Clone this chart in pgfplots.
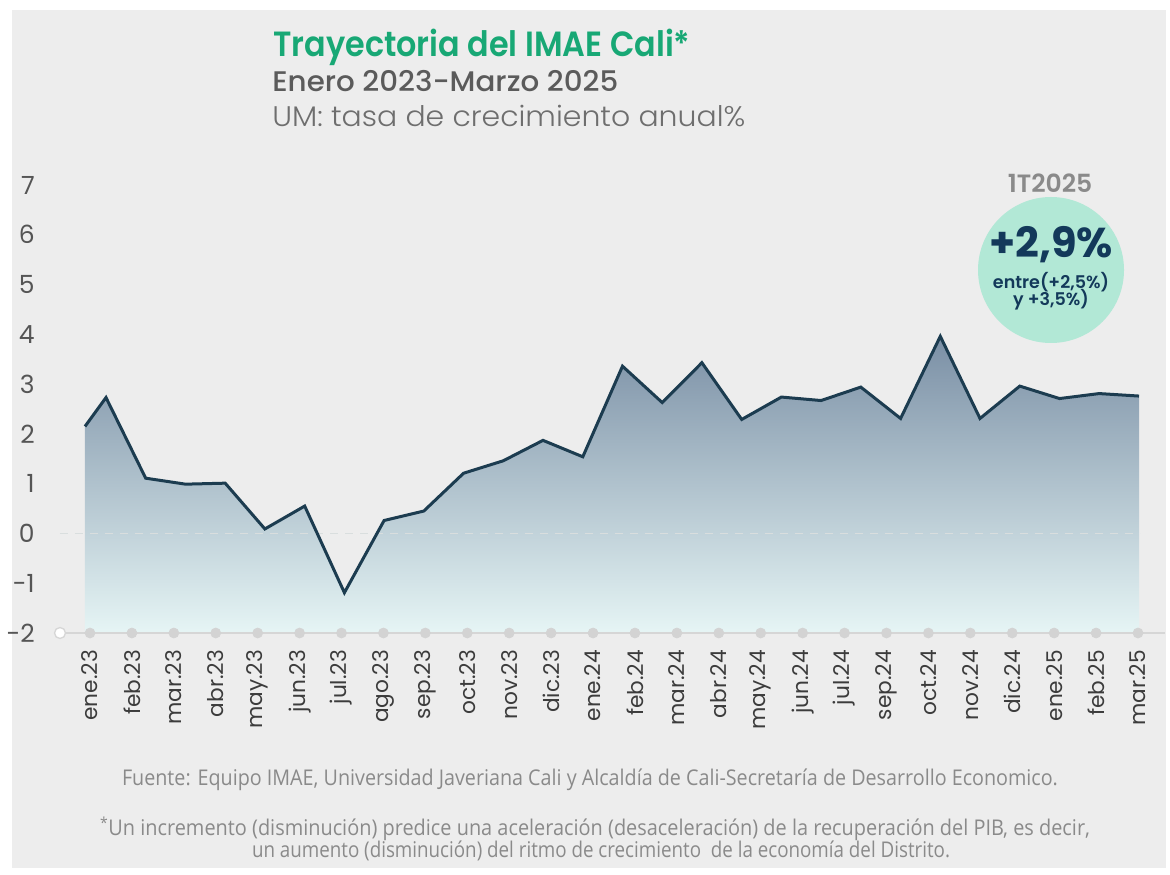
\documentclass[border=0pt]{standalone}
\usepackage{fontspec}
\setmainfont{Poppins}
\newfontfamily\popsb{Poppins SemiBold}
\newfontfamily\popmed{Poppins Medium}
\newfontfamily\poplight{Poppins Light}
\newfontfamily\popb{Poppins Bold}
\newfontfamily\footfont{Open Sans}
\usepackage{graphicx}
\usepackage{pgfplots}
\pgfplotsset{compat=1.18}
\definecolor{bg}{HTML}{EDEDED}
\definecolor{titlegreen}{HTML}{18A875}
\definecolor{subgray}{HTML}{5B5B5B}
\definecolor{umgray}{HTML}{6E6E6E}
\definecolor{mint}{HTML}{B2E8D6}
\definecolor{navy}{HTML}{13395A}
\definecolor{linecol}{HTML}{1C3C50}
\definecolor{filltop}{HTML}{7A8FA5}
\definecolor{fillbot}{HTML}{E6F5F5}
\definecolor{zerogray}{HTML}{D9DEDE}
\definecolor{axisgray}{HTML}{D6D6D6}
\definecolor{dotgray}{HTML}{D3D3D3}
\definecolor{ticklab}{HTML}{3C3C3C}
\definecolor{ylab}{HTML}{555555}
\definecolor{footgray}{HTML}{8A8A8A}
\newlength\tmpw
\newcommand\fitw[2]{\settowidth\tmpw{#2}\pgfmathsetmacro\fitratio{#1/\tmpw}\scalebox{\fitratio}[1]{#2}}
\begin{document}
\begin{tikzpicture}
\begin{scope}[x=0.6pt,y=-0.6pt]
\fill[white] (0,0) rectangle (1170,875);
\fill[bg] (12,10) rectangle (1166,868);
\node[anchor=base west, inner sep=0pt, text=titlegreen, font=\popsb\fontsize{21}{21}\selectfont] at (273,57) {\fitw{250.2pt}{Trayectoria del IMAE Cali*}};
\node[anchor=base west, inner sep=0pt, text=subgray, font=\popmed\fontsize{17}{17}\selectfont] at (272,92) {\fitw{207.6pt}{Enero 2023-Marzo 2025}};
\node[anchor=base west, inner sep=0pt, text=umgray, font=\poplight\fontsize{17}{17}\selectfont] at (272,127) {\fitw{283.8pt}{UM: tasa de crecimiento anual\%}};
\node[inner sep=0pt, text=footgray, font=\popsb\fontsize{15}{15}\selectfont] at (1050,183) {1T2025};
\fill[mint] (1051,270) circle[radius=43.8pt];
\node[inner sep=0pt, text=navy, font=\popb\fontsize{25}{25}\selectfont] at (1051,245) {+2,9\%};
\node[inner sep=0pt, text=navy, font=\popsb\fontsize{10.5}{10.5}\selectfont] at (1051,282) {entre(+2,5\%)};
\node[inner sep=0pt, text=navy, font=\popsb\fontsize{10.5}{10.5}\selectfont] at (1051,300) {y +3,5\%)};
\node[inner sep=0pt, text=footgray, font=\footfont\fontsize{13}{13}\selectfont] at (590,780) {\fitw{561.6pt}{Fuente: Equipo IMAE, Universidad Javeriana Cali y Alcaldía de Cali-Secretaría de Desarrollo Economico.}};
\node[inner sep=0pt, text=footgray, font=\footfont\fontsize{13}{13}\selectfont] at (595,829) {\fitw{594pt}{\textsuperscript{*}Un incremento (disminución) predice una aceleración (desaceleración) de la recuperación del PIB, es decir,}};
\node[inner sep=0pt, text=footgray, font=\footfont\fontsize{13}{13}\selectfont] at (601,851) {\fitw{418.8pt}{un aumento (disminución) del ritmo de crecimiento \ de la economía del Distrito.}};
\end{scope}
\begin{axis}[
  at={(36pt,-379.8pt)}, anchor=south west,
  scale only axis, width=663pt, height=268.8pt,
  xmin=60, xmax=1165, ymin=-2, ymax=7,
  axis line style={draw=none},
  major tick length=0pt,
  clip=false,
  ytick={-2,-1,0,1,2,3,4,5,6,7},
  yticklabels={-2,-1,0,1,2,3,4,5,6,7},
  yticklabel style={anchor=east, inner sep=0pt, xshift=-15pt, font=\fontsize{15}{15}\selectfont, text=ylab},
  xtick={90,131.92,173.84,215.76,257.68,299.6,341.52,383.44,425.36,467.28,509.2,551.12,593.04,634.96,676.88,718.8,760.72,802.64,844.56,886.48,928.4,970.32,1012.24,1054.16,1096.08,1138},
  xticklabels={ene.23,feb.23,mar.23,abr.23,may.23,jun.23,jul.23,ago.23,sep.23,oct.23,nov.23,dic.23,ene.24,feb.24,mar.24,abr.24,may.24,jun.24,jul.24,sep.24,oct.24,nov.24,dic.24,ene.25,feb.25,mar.25},
  xticklabel style={yshift=-10pt, rotate=90, anchor=east, inner sep=0pt, font=\fontsize{13}{13}\selectfont, text=ticklab},
]
\addplot[draw=none, top color=filltop, bottom color=fillbot] coordinates {
(85,-2) (85,2.15) (106,2.73) (145.7,1.11) (185.5,0.99) (225.2,1.01) (264.9,0.09) (304.7,0.55) (344.4,-1.19) (384.1,0.26) (423.8,0.45) (463.6,1.21) (503.3,1.46) (543.0,1.87) (582.8,1.54) (622.5,3.36) (662.2,2.63) (701.9,3.43) (741.7,2.29) (781.4,2.74) (821.1,2.67) (860.8,2.94) (900.6,2.31) (940.3,3.96) (980.0,2.31) (1019.8,2.96) (1059.5,2.71) (1099.2,2.81) (1139,2.76) (1139,-2)} -- cycle;
\draw[zerogray, line width=1pt, dash pattern=on 5pt off 4pt] (axis cs:60,0) -- (axis cs:1140,0);
\draw[axisgray, line width=1.2pt] (axis cs:60,-2) -- (axis cs:1165,-2);
\addplot[only marks, mark=*, mark size=3pt, color=dotgray] coordinates {(90,-2) (131.92,-2) (173.84,-2) (215.76,-2) (257.68,-2) (299.6,-2) (341.52,-2) (383.44,-2) (425.36,-2) (467.28,-2) (509.2,-2) (551.12,-2) (593.04,-2) (634.96,-2) (676.88,-2) (718.8,-2) (760.72,-2) (802.64,-2) (844.56,-2) (886.48,-2) (928.4,-2) (970.32,-2) (1012.24,-2) (1054.16,-2) (1096.08,-2) (1138,-2)};
\addplot[only marks, mark=*, mark size=3.3pt, mark options={fill=white, draw=axisgray, line width=0.8pt}] coordinates {(60,-2)};
\addplot[linecol, line width=1.8pt, mark=none] coordinates {
(85,2.15) (106,2.73) (145.7,1.11) (185.5,0.99) (225.2,1.01) (264.9,0.09) (304.7,0.55) (344.4,-1.19) (384.1,0.26) (423.8,0.45) (463.6,1.21) (503.3,1.46) (543.0,1.87) (582.8,1.54) (622.5,3.36) (662.2,2.63) (701.9,3.43) (741.7,2.29) (781.4,2.74) (821.1,2.67) (860.8,2.94) (900.6,2.31) (940.3,3.96) (980.0,2.31) (1019.8,2.96) (1059.5,2.71) (1099.2,2.81) (1139,2.76)};
\end{axis}
\end{tikzpicture}
\end{document}
